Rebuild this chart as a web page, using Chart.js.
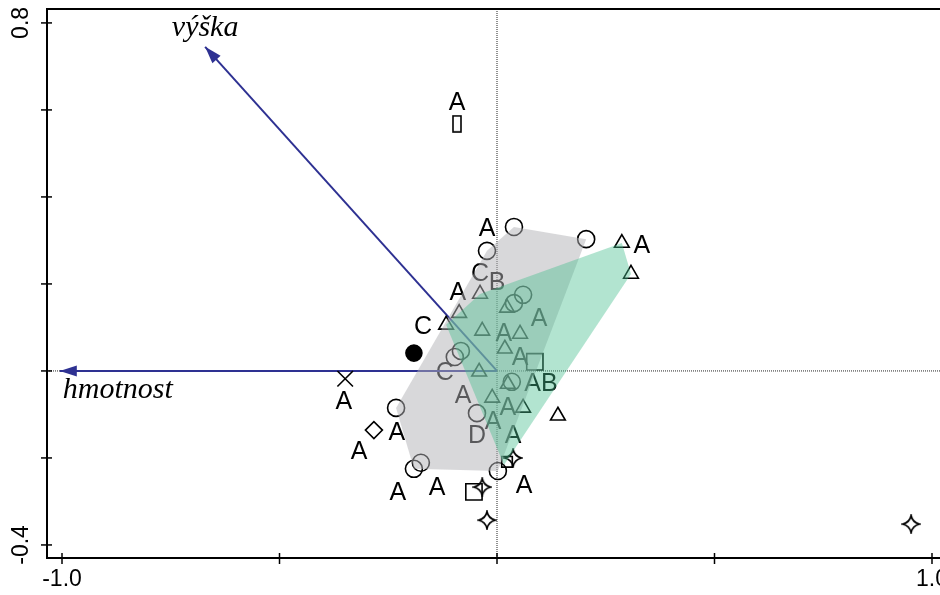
<!DOCTYPE html>
<html>
<head>
<meta charset="utf-8">
<script src="https://cdn.jsdelivr.net/npm/chart.js"></script>
<style>
  body { margin: 0; background: #fff; }
</style>
</head>
<body>
<canvas id="myChart" width="940" height="595"></canvas>
<script>
"use strict";

// axis ranges + ticks
let xMin = -1.0345, xMax = 1.0138;
let yMin = -0.430, yMax = 0.832;
let xTicks = [-1.0, -0.5, 0, 0.5, 1.0];
let xTickLabels = ['-1.0', '', '', '', '1.0'];
let yTicks = [-0.4, -0.2, 0, 0.2, 0.4, 0.6, 0.8];
let yTickLabels = ['-0.4', '', '', '', '', '', '0.8'];

// sample scores by marker type
let openCircles = [[0.039, 0.331], [0.205, 0.303], [-0.023, 0.276], [0.060, 0.175], [0.039, 0.156],
  [-0.083, 0.046], [-0.097, 0.032], [0.034, -0.025], [-0.046, -0.097], [-0.232, -0.085],
  [-0.175, -0.211], [-0.191, -0.225], [0.002, -0.230]];
let filledCircles = [[-0.191, 0.041]];
let triangles = [[-0.039, 0.177], [-0.087, 0.133], [-0.117, 0.106], [-0.041, -0.002], [-0.034, 0.092],
  [0.053, 0.085], [0.018, 0.051], [0.025, -0.030], [0.023, 0.145], [0.287, 0.294], [0.308, 0.223],
  [0.140, -0.103], [-0.011, -0.062], [0.060, -0.085]];
let squares = [[0.087, 0.021], [-0.053, -0.278]];
let smallSquares = [[0.023, -0.209]];
let tallRects = [[-0.092, 0.568]];
let diamonds = [[-0.283, -0.136]];
let crosses = [[-0.349, -0.018]];
let stars = [[0.037, -0.200], [-0.034, -0.267], [-0.023, -0.343], [0.952, -0.352]];

// letter labels
let pointLabels = [['A', -0.092, 0.618], ['A', -0.023, 0.329], ['C', -0.039, 0.225], ['B', 0.000, 0.205],
  ['A', -0.090, 0.182], ['C', -0.170, 0.103], ['A', 0.333, 0.290], ['A', 0.097, 0.122],
  ['A', 0.016, 0.087], ['A', 0.053, 0.032], ['C', -0.120, -0.002], ['AB', 0.101, -0.028],
  ['A', -0.078, -0.055], ['A', 0.025, -0.083], ['A', -0.009, -0.115], ['D', -0.046, -0.147],
  ['A', 0.037, -0.147], ['A', -0.230, -0.140], ['A', -0.317, -0.184], ['A', -0.352, -0.069],
  ['A', -0.228, -0.278], ['A', -0.138, -0.267], ['A', 0.062, -0.262]];

// group hulls
let grayHull = [[0.039, 0.331], [0.205, 0.303], [0.002, -0.230], [-0.191, -0.225], [-0.232, -0.085], [-0.023, 0.276]];
let greenHull = [[-0.117, 0.106], [-0.039, 0.177], [0.287, 0.294], [0.308, 0.223], [0.016, -0.216]];

// environmental arrows
let arrowNames = ['výška', 'hmotnost'];
let arrowTips = [[-0.671, 0.745], [-1.005, 0]];

const blue = '#2e3192';

function toXY(list) {
    return list.map(p => ({x: p[0], y: p[1]}));
}

function makeStar() {
    let c = document.createElement('canvas');
    c.width = 20; c.height = 20;
    let g = c.getContext('2d');
    g.lineWidth = 1.7;
    g.strokeStyle = '#000';
    g.beginPath();
    g.moveTo(10, 1.5);
    g.quadraticCurveTo(11.5, 8.5, 18.5, 10);
    g.quadraticCurveTo(11.5, 11.5, 10, 18.5);
    g.quadraticCurveTo(8.5, 11.5, 1.5, 10);
    g.quadraticCurveTo(8.5, 8.5, 10, 1.5);
    g.closePath();
    g.stroke();
    return c;
}

function makeTallRect() {
    let c = document.createElement('canvas');
    c.width = 10; c.height = 18;
    let g = c.getContext('2d');
    g.lineWidth = 1.6;
    g.strokeStyle = '#000';
    g.strokeRect(1, 1, 8, 16);
    return c;
}

function markerSet(points, style, radius, fill) {
    return {
        data: toXY(points),
        pointStyle: style,
        pointRadius: radius,
        pointBorderColor: '#000',
        pointBackgroundColor: fill || 'rgba(0,0,0,0)',
        pointBorderWidth: 1.6,
        showLine: false
    };
}

function hullSet(points, color) {
    let pts = toXY(points);
    pts.push(pts[0]);
    return {
        data: pts,
        showLine: true,
        borderWidth: 0,
        borderColor: 'rgba(0,0,0,0)',
        backgroundColor: color,
        fill: 'shape',
        pointRadius: 0,
        tension: 0
    };
}

function arrowSet(tip) {
    return {
        data: [{x: 0, y: 0}, {x: tip[0], y: tip[1]}],
        showLine: true,
        borderColor: blue,
        borderWidth: 2,
        pointRadius: 0,
        fill: false
    };
}

const extras = {
    id: 'extras',
    beforeDatasetsDraw(chart) {
        const {ctx, chartArea} = chart;
        const xs = chart.scales.x, ys = chart.scales.y;
        let x0 = xs.getPixelForValue(0), y0 = ys.getPixelForValue(0);
        ctx.save();
        ctx.strokeStyle = '#222';
        ctx.lineWidth = 1;
        ctx.setLineDash([1, 1]);
        ctx.beginPath();
        ctx.moveTo(x0, chartArea.top);
        ctx.lineTo(x0, chartArea.bottom);
        ctx.moveTo(chartArea.left, y0);
        ctx.lineTo(chartArea.right + 2, y0);
        ctx.stroke();
        ctx.setLineDash([]);

        ctx.fillStyle = '#000';
        ctx.font = '25px "Liberation Sans", Arial, sans-serif';
        ctx.textAlign = 'center';
        ctx.textBaseline = 'middle';
        for (let i = 0; i < pointLabels.length; i++) {
            let l = pointLabels[i];
            ctx.fillText(l[0], xs.getPixelForValue(l[1]), ys.getPixelForValue(l[2]) + 1);
        }
        ctx.restore();
    },
    afterDatasetsDraw(chart) {
        const {ctx, chartArea} = chart;
        const xs = chart.scales.x, ys = chart.scales.y;
        let x0 = xs.getPixelForValue(0), y0 = ys.getPixelForValue(0);
        ctx.save();
        // arrow heads
        ctx.fillStyle = blue;
        for (let i = 0; i < arrowTips.length; i++) {
            let tx = xs.getPixelForValue(arrowTips[i][0]);
            let ty = ys.getPixelForValue(arrowTips[i][1]);
            let ang = Math.atan2(ty - y0, tx - x0);
            ctx.save();
            ctx.translate(tx, ty);
            ctx.rotate(ang);
            ctx.beginPath();
            ctx.moveTo(0, 0);
            ctx.lineTo(-17, -5.5);
            ctx.lineTo(-17, 5.5);
            ctx.closePath();
            ctx.fill();
            ctx.restore();
        }
        // arrow names
        ctx.fillStyle = '#000';
        ctx.font = 'italic 30px "Liberation Serif", "DejaVu Serif", serif';
        ctx.textAlign = 'center';
        ctx.textBaseline = 'middle';
        let t0x = xs.getPixelForValue(arrowTips[0][0]), t0y = ys.getPixelForValue(arrowTips[0][1]);
        ctx.fillText(arrowNames[0], t0x, t0y - 19);
        let t1x = xs.getPixelForValue(arrowTips[1][0]), t1y = ys.getPixelForValue(arrowTips[1][1]);
        ctx.fillText(arrowNames[1], t1x + 58, t1y + 19);

        // frame
        ctx.strokeStyle = '#000';
        ctx.lineWidth = 2;
        ctx.beginPath();
        ctx.moveTo(chartArea.right + 2, chartArea.top);
        ctx.lineTo(chartArea.left, chartArea.top);
        ctx.lineTo(chartArea.left, chartArea.bottom);
        ctx.lineTo(chartArea.right + 2, chartArea.bottom);
        ctx.stroke();

        // ticks
        ctx.lineWidth = 1.5;
        ctx.font = '23px "Liberation Sans", Arial, sans-serif';
        for (let i = 0; i < xTicks.length; i++) {
            let px = xs.getPixelForValue(xTicks[i]);
            ctx.beginPath();
            ctx.moveTo(px, chartArea.bottom - 5);
            ctx.lineTo(px, chartArea.bottom + 6);
            ctx.stroke();
            ctx.fillText(xTickLabels[i], px, chartArea.bottom + 22);
        }
        for (let i = 0; i < yTicks.length; i++) {
            let py = ys.getPixelForValue(yTicks[i]);
            ctx.beginPath();
            ctx.moveTo(chartArea.left - 6, py);
            ctx.lineTo(chartArea.left + 5, py);
            ctx.stroke();
            if (yTickLabels[i]) {
                ctx.save();
                ctx.translate(chartArea.left - 25, py);
                ctx.rotate(-Math.PI / 2);
                ctx.fillText(yTickLabels[i], 0, 0);
                ctx.restore();
            }
        }
        ctx.restore();
    }
};

const ctx = document.getElementById('myChart').getContext('2d');
const myChart = new Chart(ctx, {
    type: 'scatter',
    data: {
        datasets: [
            hullSet(greenHull, 'rgba(71,190,143,0.42)'),
            hullSet(grayHull, 'rgba(178,178,182,0.5)'),
            markerSet(openCircles, 'circle', 8.5),
            markerSet(filledCircles, 'circle', 8, '#000'),
            markerSet(triangles, 'triangle', 8.5),
            markerSet(squares, 'rect', 11.5),
            markerSet(smallSquares, 'rect', 7.5),
            markerSet(tallRects, makeTallRect(), 8),
            markerSet(diamonds, 'rectRot', 8.5),
            markerSet(crosses, 'crossRot', 11),
            markerSet(stars, makeStar(), 9),
            arrowSet(arrowTips[0]),
            arrowSet(arrowTips[1])
        ]
    },
    options: {
        responsive: false,
        animation: false,
        layout: {autoPadding: false, padding: {left: 47, right: 2, top: 9, bottom: 37}},
        plugins: {legend: {display: false}, tooltip: {enabled: false}},
        scales: {
            x: {type: 'linear', min: xMin, max: xMax, display: false},
            y: {type: 'linear', min: yMin, max: yMax, display: false}
        }
    },
    plugins: [extras]
});
</script>
</body>
</html>
